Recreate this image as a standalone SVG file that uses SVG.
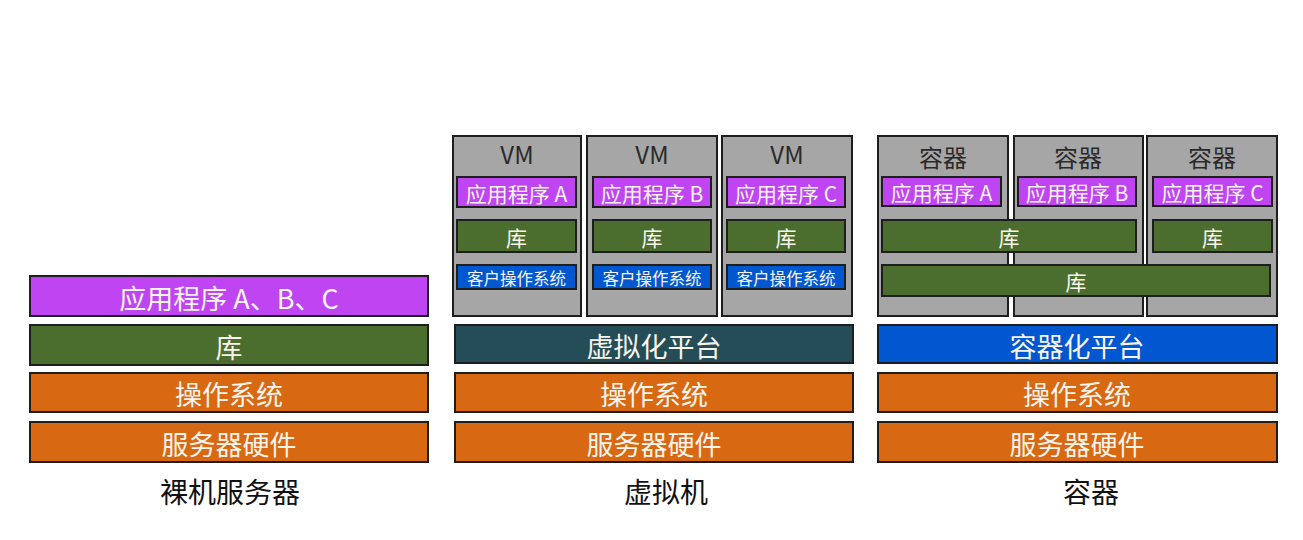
<svg xmlns="http://www.w3.org/2000/svg" width="1303" height="540" viewBox="0 0 1303 540">
<style>
text{font-family:"Noto Sans CJK SC","Noto Sans",sans-serif;text-anchor:middle;dominant-baseline:central}
rect{stroke:#1e1e1e;stroke-width:2}
rect.bg{fill:#ffffff;stroke:none}
.app{fill:#bf45f2}.lib{fill:#4b6e2f}.os{fill:#d96812}.vp{fill:#244d58}.cp{fill:#0057cf}.gos{fill:#0057cf}.box{fill:#a6a6a6}
.w{fill:#f8f4ec}
.big{font-size:27px}.mid{font-size:21px}.sm{font-size:16.5px}.ttl{font-size:24px;fill:#2a2a2a}.lbl{font-size:28px;fill:#111}
</style>
<rect class="bg" x="0" y="0" width="1303" height="540"/>
<g id="bare">
<g id="bare-app"><rect class="app" x="30" y="276" width="398" height="40"/><text class="w big" x="229" y="297">应用程序 A、B、C</text></g>
<g id="bare-lib"><rect class="lib" x="30" y="325" width="398" height="40"/><text class="w big" x="229" y="346">库</text></g>
<g id="bare-os"><rect class="os" x="30" y="373" width="398" height="39"/><text class="w big" x="229" y="393">操作系统</text></g>
<g id="bare-hw"><rect class="os" x="30" y="422" width="398" height="40"/><text class="w big" x="229" y="443">服务器硬件</text></g>
<text class="lbl" x="230" y="491">裸机服务器</text>
</g>
<g id="vm">
<g id="vm1"><rect class="box" x="453" y="136" width="128" height="180"/><text class="ttl" x="517" y="153">VM</text>
<rect class="app" x="457" y="177" width="119" height="30"/><text class="w mid" x="516.5" y="193">应用程序 A</text>
<rect class="lib" x="457" y="220" width="119" height="32"/><text class="w mid" x="516.5" y="237">库</text>
<rect class="gos" x="457" y="265" width="119" height="24"/><text class="w sm" x="516.5" y="277.5">客户操作系统</text></g>
<g id="vm2"><rect class="box" x="587" y="136" width="130" height="180"/><text class="ttl" x="652" y="153">VM</text>
<rect class="app" x="593" y="177" width="118" height="30"/><text class="w mid" x="652" y="193">应用程序 B</text>
<rect class="lib" x="593" y="220" width="118" height="32"/><text class="w mid" x="652" y="237">库</text>
<rect class="gos" x="593" y="265" width="118" height="24"/><text class="w sm" x="652" y="277.5">客户操作系统</text></g>
<g id="vm3"><rect class="box" x="722" y="136" width="130" height="180"/><text class="ttl" x="787" y="153">VM</text>
<rect class="app" x="727" y="177" width="118" height="30"/><text class="w mid" x="786" y="193">应用程序 C</text>
<rect class="lib" x="727" y="220" width="118" height="32"/><text class="w mid" x="786" y="237">库</text>
<rect class="gos" x="727" y="265" width="118" height="24"/><text class="w sm" x="786" y="277.5">客户操作系统</text></g>
<g id="vm-plat"><rect class="vp" x="455" y="325" width="398" height="38"/><text class="w big" x="654" y="345">虚拟化平台</text></g>
<g id="vm-os"><rect class="os" x="455" y="373" width="398" height="39"/><text class="w big" x="654" y="393">操作系统</text></g>
<g id="vm-hw"><rect class="os" x="455" y="422" width="398" height="40"/><text class="w big" x="654" y="443">服务器硬件</text></g>
<text class="lbl" x="666" y="491">虚拟机</text>
</g>
<g id="ct">
<g id="c1"><rect class="box" x="878" y="136" width="130" height="180"/><text class="ttl" x="943" y="156">容器</text></g>
<g id="c2"><rect class="box" x="1014" y="136" width="129" height="180"/><text class="ttl" x="1078" y="156">容器</text></g>
<g id="c3"><rect class="box" x="1147" y="136" width="130" height="180"/><text class="ttl" x="1212" y="156">容器</text></g>
<g id="capp-a"><rect class="app" x="882" y="177" width="119" height="29"/><text class="w mid" x="941.5" y="192">应用程序 A</text></g>
<g id="capp-b"><rect class="app" x="1018" y="177" width="118" height="29"/><text class="w mid" x="1077" y="192">应用程序 B</text></g>
<g id="capp-c"><rect class="app" x="1153" y="177" width="119" height="29"/><text class="w mid" x="1212.5" y="192">应用程序 C</text></g>
<g id="clib-ab"><rect class="lib" x="882" y="220" width="254" height="32"/><text class="w mid" x="1009" y="237">库</text></g>
<g id="clib-c"><rect class="lib" x="1153" y="220" width="119" height="32"/><text class="w mid" x="1212.5" y="237">库</text></g>
<g id="clib-all"><rect class="lib" x="882" y="265" width="388" height="31"/><text class="w mid" x="1076" y="281">库</text></g>
<g id="c-plat"><rect class="cp" x="878" y="325" width="399" height="38"/><text class="w big" x="1077" y="345">容器化平台</text></g>
<g id="c-os"><rect class="os" x="878" y="373" width="399" height="39"/><text class="w big" x="1077" y="393">操作系统</text></g>
<g id="c-hw"><rect class="os" x="878" y="422" width="399" height="40"/><text class="w big" x="1077" y="443">服务器硬件</text></g>
<text class="lbl" x="1091" y="491">容器</text>
</g>
<g id="connectors"/>
</svg>
